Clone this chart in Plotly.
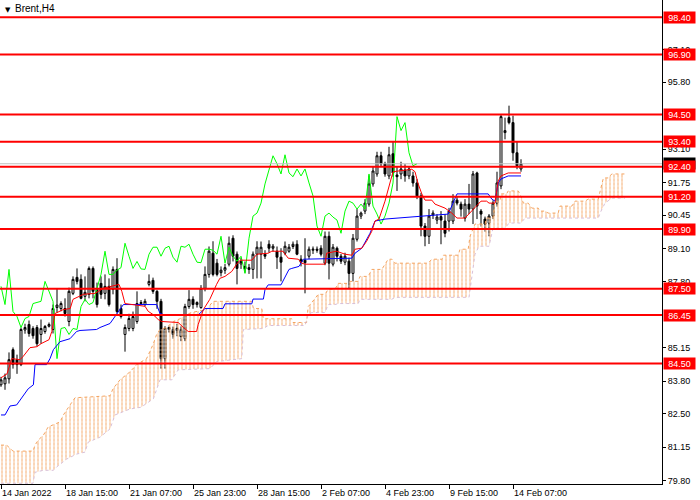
import plotly.graph_objects as go

# ------------------------------------------------------------
# Brent H4 candles (bar index 0 = 14 Jan 2022)
# ------------------------------------------------------------
opens = [83.65, 83.69, 83.89, 85.06, 84.66, 84.46, 85.85, 86.07, 85.91, 85.95,
         85.67, 85.79, 86.00, 85.87, 86.75, 86.71, 86.71, 86.19, 87.32, 87.96,
         87.88, 87.20, 87.28, 88.32, 87.48, 87.72, 87.32, 87.60, 87.48, 88.28,
         86.71, 85.67, 85.91, 85.91, 86.19, 86.91, 86.87, 87.68, 87.84, 87.40,
         87.00, 84.70, 85.87, 85.87, 85.83, 85.58, 85.50, 86.79, 87.08, 86.87,
         86.75, 87.52, 88.08, 88.93, 88.53, 88.15, 88.25, 88.49, 89.53, 88.89,
         88.50, 88.40, 88.35, 88.28, 88.89, 88.89, 88.89, 89.29, 89.13, 89.01,
         88.77, 88.93, 89.01, 89.20, 89.29, 88.69, 88.65, 88.81, 89.05, 89.09,
         89.13, 88.53, 89.61, 88.49, 89.13, 88.81, 88.57, 88.61, 88.12, 89.49,
         90.42, 90.62, 90.90, 91.71, 92.11, 92.84, 92.52, 92.03, 92.92, 92.07,
         92.11, 92.27, 92.03, 92.03, 91.75, 91.23, 90.02, 89.61, 90.46, 90.26,
         90.40, 90.22, 90.22, 90.22, 91.06, 90.90, 90.34, 90.90, 90.70, 92.15,
         90.62, 90.30, 90.14, 90.42, 90.94, 91.63, 93.77, 94.37, 94.17, 92.96,
         92.31]
highs = [83.97, 84.10, 84.95, 85.15, 84.86, 85.95, 86.10, 86.23, 86.00, 86.05,
         86.27, 86.05, 86.15, 86.87, 87.52, 87.00, 87.12, 87.55, 88.00, 88.32,
         88.08, 88.00, 88.40, 88.40, 87.75, 88.00, 88.08, 87.92, 88.40, 88.73,
         86.87, 86.07, 86.50, 86.59, 87.40, 87.05, 87.10, 88.08, 87.95, 87.45,
         87.10, 86.00, 86.00, 85.99, 86.10, 86.00, 86.90, 87.45, 87.20, 87.00,
         87.65, 88.40, 89.20, 89.41, 88.70, 88.40, 88.50, 89.60, 89.65, 89.00,
         88.75, 88.60, 88.50, 89.00, 89.41, 89.40, 89.05, 89.45, 89.30, 89.20,
         89.13, 89.40, 89.30, 89.40, 89.45, 88.85, 89.53, 89.20, 89.20, 89.20,
         89.25, 89.80, 89.80, 89.30, 89.20, 88.90, 88.95, 88.75, 89.70, 90.70,
         90.60, 91.10, 92.05, 92.40, 93.00, 93.00, 92.60, 93.20, 93.40, 92.40,
         92.60, 92.50, 92.40, 92.20, 91.90, 91.35, 90.14, 90.70, 90.65, 90.50,
         90.62, 90.50, 90.75, 91.30, 91.20, 91.00, 91.10, 91.71, 92.23, 92.20,
         90.70, 90.40, 90.50, 91.05, 92.20, 94.50, 94.37, 94.85, 94.45, 93.40,
         92.70]
lows = [83.57, 83.45, 83.70, 84.30, 84.09, 84.40, 85.70, 85.58, 85.50, 85.20,
        85.30, 85.70, 85.95, 85.71, 86.55, 86.60, 86.39, 86.00, 87.25, 87.68,
        87.08, 87.00, 87.12, 87.12, 86.75, 87.10, 87.08, 86.79, 87.28, 86.51,
        86.31, 84.98, 85.80, 85.80, 86.10, 86.85, 86.80, 87.60, 87.30, 86.70,
        84.30, 84.30, 85.75, 85.50, 85.60, 85.40, 85.40, 86.70, 86.70, 86.75,
        86.70, 87.40, 87.95, 88.00, 88.00, 88.00, 88.10, 88.40, 88.60, 87.68,
        88.30, 88.15, 88.10, 87.90, 87.92, 87.92, 88.70, 88.95, 89.00, 88.30,
        87.80, 88.85, 88.95, 89.10, 88.85, 88.40, 87.32, 88.70, 88.90, 88.95,
        88.80, 88.45, 87.88, 88.40, 88.60, 88.50, 88.45, 87.52, 87.80, 89.40,
        90.30, 90.50, 90.80, 91.60, 92.00, 92.40, 92.00, 91.90, 92.00, 91.43,
        91.90, 91.80, 91.90, 91.60, 91.10, 89.61, 89.21, 89.30, 90.30, 90.10,
        89.29, 89.57, 89.80, 90.10, 90.85, 90.40, 90.20, 90.50, 90.10, 90.30,
        90.00, 89.80, 89.61, 90.30, 90.80, 91.50, 93.50, 94.10, 92.64, 92.30,
        92.20]
closes = [83.85, 83.93, 84.66, 84.46, 84.46, 85.87, 85.95, 85.71, 85.62, 85.30,
          85.91, 85.99, 86.07, 86.71, 86.85, 86.91, 86.51, 87.40, 87.88, 87.80,
          87.12, 87.36, 88.32, 87.40, 86.87, 87.28, 87.60, 86.87, 88.28, 86.59,
          86.39, 85.95, 86.31, 86.39, 86.91, 86.95, 87.00, 87.80, 87.40, 87.00,
          84.70, 85.91, 85.95, 85.67, 85.91, 85.87, 86.79, 87.08, 86.87, 86.95,
          87.52, 88.08, 89.01, 88.08, 88.08, 88.25, 88.35, 89.33, 88.81, 88.32,
          88.60, 88.30, 88.28, 88.89, 89.17, 89.17, 88.81, 89.13, 89.21, 88.77,
          88.57, 89.21, 89.17, 89.29, 88.89, 88.57, 88.55, 89.09, 89.09, 89.05,
          88.89, 89.61, 88.53, 89.17, 88.81, 88.61, 88.81, 88.12, 89.53, 90.42,
          90.54, 90.94, 91.71, 92.23, 92.84, 92.52, 92.11, 92.88, 92.15, 92.00,
          92.31, 92.03, 92.31, 91.75, 91.23, 90.02, 89.61, 90.42, 90.54, 90.38,
          90.26, 89.73, 90.62, 91.02, 90.94, 90.70, 90.90, 90.70, 92.11, 90.82,
          90.50, 90.10, 90.42, 90.94, 91.75, 94.41, 93.85, 94.17, 92.96, 92.44,
          92.52]

# Ichimoku lines, read as polyline vertices (bar, price)
tenkan_x = [0, 1.5, 2.7, 4.75, 5.5, 7.25, 9, 10, 12, 12.7, 13.5, 15.6, 17.3, 18,
            20.6, 23.5, 25.6, 27.25, 29.5, 30.2, 31, 36, 36.8, 38, 39.3, 40.2,
            44.3, 45.6, 46.8, 48.9, 49.3, 50.6, 52.2, 53.9, 54.7, 56, 57.7, 58.9,
            59.8, 62.7, 64, 66.8, 67.7, 70.5, 71.8, 74.3, 75.2, 76, 81, 81.4,
            83.9, 86, 87.7, 88.5, 90.2, 91.4, 92.7, 93.5, 94.5, 96, 96.8, 98,
            102.7, 103.5, 104.3, 105.2, 106, 107.7, 108.5, 111, 112.7, 114, 116,
            117.7, 120, 121.4, 122, 123.5, 124.3, 125, 126.8, 130]
tenkan_y = [83.93, 84.09, 84.70, 84.66, 84.78, 85.14, 85.18, 85.30, 85.46, 85.79,
            86.51, 86.67, 86.71, 87.08, 87.28, 87.32, 87.52, 87.60, 87.68, 87.40,
            86.91, 86.80, 86.60, 86.47, 86.27, 86.19, 86.15, 85.95, 85.79, 85.79,
            86.07, 86.67, 87.08, 87.68, 87.92, 88.00, 88.20, 88.49, 88.65, 88.65,
            88.89, 88.93, 89.01, 89.01, 88.73, 88.69, 88.53, 88.49, 88.49, 88.93,
            89.01, 88.89, 88.85, 89.09, 89.13, 89.41, 89.81, 90.22, 90.30, 91.02,
            91.51, 92.20, 92.30, 92.20, 91.71, 91.31, 91.06, 91.06, 90.90, 90.74,
            90.54, 90.34, 90.34, 90.62, 91.02, 91.02, 90.94, 90.94, 91.83, 92.03,
            92.15, 92.15]

kijun_x = [0, 1, 2.25, 3.9, 6.8, 8.1, 8.5, 11.4, 12.25, 13.1, 14.75, 17.25, 18.9,
           19.75, 23.9, 24.75, 27.25, 28.9, 30.6, 38.9, 39.75, 40.6, 49.4, 51,
           55.5, 56, 62.7, 63, 65.6, 66, 66.8, 70, 71, 72, 72.7, 74.5, 75.6, 87.7,
           88.5, 90.2, 92.25, 93.5, 96, 111.8, 113, 114, 121.8, 122.7, 123.5,
           124.3, 125, 126.8, 130]
kijun_y = [82.44, 82.44, 82.80, 82.84, 83.49, 83.65, 84.46, 84.46, 84.70, 85.06,
           85.38, 85.50, 85.79, 85.83, 85.87, 85.95, 86.11, 86.47, 86.87, 86.87,
           86.51, 86.47, 86.47, 86.71, 86.71, 86.90, 86.90, 87.09, 87.09, 87.47,
           87.66, 87.66, 88.00, 88.28, 88.32, 88.40, 88.69, 88.73, 88.93, 89.13,
           89.73, 90.22, 90.30, 90.50, 90.94, 91.31, 91.31, 91.10, 91.02, 91.75,
           91.91, 92.03, 92.03]

span_a_x = [0, 1.4, 3, 8, 8.5, 9.3, 10.6, 11.8, 14.75, 15.6, 17.25, 18.5, 27.25,
            28, 29.75, 32.25, 33.9, 36.4, 38, 38.9, 39.75, 41.4, 43.1, 44.75,
            46.4, 47.6, 51.4, 53, 62.7, 63.1, 65.2, 65.6, 72.7, 73, 76.4, 76.8,
            77.7, 79.3, 81, 81.8, 83.5, 84.3, 86.8, 87.25, 89.3, 89.75, 91.8,
            92.7, 95.2, 96.8, 97.7, 98.5, 106.8, 107.7, 110.3, 110.6, 114.3,
            114.75, 116.8, 117.25, 118.5, 121, 121.4, 123, 123.5, 124.75, 125,
            126.4, 126.8, 129.3, 129.75, 130.6, 131.8, 132.7, 134.3, 134.75, 136,
            136.8, 139.3, 139.75, 142.7, 143.5, 146, 146.8, 149.3, 149.75, 150.6,
            151.8, 152.7, 156]
span_a_y = [81.23, 81.23, 80.99, 80.99, 81.23, 81.43, 81.63, 81.96, 82.16, 82.44,
            82.84, 83.13, 83.21, 83.49, 83.85, 84.17, 84.46, 84.70, 85.26, 85.67,
            85.87, 85.95, 86.19, 86.30, 86.47, 86.55, 86.67, 87.00, 87.00, 86.71,
            86.71, 86.30, 86.30, 86.15, 86.15, 86.79, 86.95, 87.28, 87.28, 87.48,
            87.48, 87.72, 87.72, 87.80, 87.80, 88.00, 88.00, 88.28, 88.28, 88.69,
            88.69, 88.53, 88.53, 88.69, 88.69, 88.85, 88.85, 89.09, 89.09, 89.61,
            90.10, 90.10, 90.34, 90.34, 91.02, 91.02, 91.31, 91.31, 91.43, 91.43,
            91.31, 90.94, 90.94, 90.74, 90.74, 90.62, 90.62, 90.54, 90.54, 90.82,
            90.82, 91.02, 91.02, 91.10, 91.10, 91.43, 91.95, 91.95, 92.11, 92.11]

span_b_x = [0, 8, 8.5, 10.6, 13.1, 13.9, 16.4, 18.9, 21, 21.8, 24.75, 27.25, 28.5,
            32.25, 35, 38.1, 39.75, 42.7, 44.3, 52.25, 53.9, 60.2, 60.6, 65.6,
            66.8, 76, 76.8, 77.7, 81, 81.8, 83.5, 84.3, 89.3, 89.75, 97.7, 98.5,
            117, 118, 118.5, 119.5, 122, 123, 126, 127, 130, 131, 149.3, 150, 151,
            152.7, 156]
span_b_y = [79.70, 79.70, 80.14, 80.22, 80.22, 80.35, 80.67, 80.87, 80.95, 81.35,
            81.55, 81.88, 82.44, 82.68, 82.75, 83.09, 83.85, 83.85, 84.25, 84.30,
            84.58, 84.70, 85.87, 85.91, 86.03, 86.03, 86.47, 86.55, 86.55, 86.87,
            86.87, 86.91, 86.91, 87.08, 87.08, 87.16, 87.16, 88.20, 88.89, 89.21,
            89.21, 89.93, 89.93, 90.14, 90.14, 90.34, 90.34, 90.62, 90.94, 91.14,
            91.14]

# Horizontal levels drawn on the chart
levels = [98.40, 96.90, 94.50, 93.40, 92.40, 91.20, 89.90, 87.50, 86.45, 84.50]
last_price = 92.52

# Price scale and time scale
price_ticks = [79.80, 81.15, 82.50, 83.80, 85.15, 87.80, 89.10, 90.45,
               91.75, 93.10, 95.80, 97.10]
time_ticks = [0, 16, 32, 48, 64, 80, 96, 112, 128]
time_labels = ["14 Jan 2022", "18 Jan 15:00", "21 Jan 07:00", "25 Jan 23:00",
               "28 Jan 15:00", "2 Feb 07:00", "4 Feb 23:00", "9 Feb 15:00",
               "14 Feb 07:00"]

bars = list(range(len(closes)))
chikou = closes[26:]          # lagging span: close shifted back 26 bars

FONT = "Liberation Sans, Arial, sans-serif"
SANDY = "#F4A460"
THISTLE = "#D8BFD8"

fig = go.Figure()

# ============================================================
# KUMO: vertical hatching between span A and span B, then broken
# into short dashes by a white horizontal hatch on top of it
# ============================================================
fig.add_trace(go.Scatter(
    x=span_b_x, y=span_b_y, mode="lines",
    line=dict(color="rgba(0,0,0,0)", width=0), hoverinfo="skip"))
fig.add_trace(go.Scatter(
    x=span_a_x, y=span_a_y, mode="lines", fill="tonexty",
    fillcolor="rgba(0,0,0,0)",
    fillpattern=dict(shape="|", size=4, solidity=0.45,
                     fgcolor=SANDY, bgcolor="rgba(0,0,0,0)"),
    line=dict(color=SANDY, width=1, dash="dot"), hoverinfo="skip"))
fig.add_trace(go.Scatter(
    x=span_b_x, y=span_b_y, mode="lines", fill="tonexty",
    fillcolor="rgba(0,0,0,0)",
    fillpattern=dict(shape="-", size=4, solidity=0.22,
                     fgcolor="white", bgcolor="rgba(0,0,0,0)"),
    line=dict(color=THISTLE, width=1, dash="dot"), hoverinfo="skip"))

fig.add_trace(go.Candlestick(
    x=bars, open=opens, high=highs, low=lows, close=closes,
    increasing=dict(line=dict(color="black", width=1), fillcolor="white"),
    decreasing=dict(line=dict(color="black", width=1), fillcolor="black"),
    whiskerwidth=0))

fig.add_trace(go.Scatter(x=bars[:len(chikou)], y=chikou, mode="lines",
                         line=dict(color="#00FF00", width=1)))
fig.add_trace(go.Scatter(x=kijun_x, y=kijun_y, mode="lines",
                         line=dict(color="#0000FF", width=1)))
fig.add_trace(go.Scatter(x=tenkan_x, y=tenkan_y, mode="lines",
                         line=dict(color="#FF0000", width=1)))

# ============================================================
# LEVELS + PRICE LABELS
# ============================================================
shapes = [dict(type="line", xref="paper", x0=0, x1=1, yref="y",
               y0=last_price, y1=last_price, layer="above",
               line=dict(color="#C0C0C0", width=1))]
for lv in levels:
    shapes.append(dict(type="line", xref="paper", x0=0, x1=1, yref="y",
                       y0=lv, y1=lv, layer="above",
                       line=dict(color="#FF0000", width=2)))

annotations = [
    dict(xref="paper", yref="y", x=1, y=last_price, xanchor="left",
         yanchor="middle", xshift=1, text=f"{last_price:.2f}", showarrow=False,
         bgcolor="black", font=dict(color="white", size=9, family=FONT),
         width=31, height=11, borderpad=0),
]
for lv in levels:
    annotations.append(dict(
        xref="paper", yref="y", x=1, y=lv, xanchor="left", yanchor="middle",
        xshift=1, text=f"{lv:.2f}", showarrow=False, bgcolor="#FF0000",
        font=dict(color="white", size=9, family=FONT),
        width=31, height=11, borderpad=0))
annotations += [
    dict(xref="paper", yref="paper", x=0, y=1, xanchor="left", yanchor="top",
         xshift=3, yshift=-4, text="▼", showarrow=False,
         font=dict(color="black", size=7, family="DejaVu Sans")),
    dict(xref="paper", yref="paper", x=0, y=1, xanchor="left", yanchor="top",
         xshift=13, yshift=-1, text="Brent,H4", showarrow=False,
         font=dict(color="black", size=10, family=FONT)),
]

fig.update_layout(
    width=700, height=500, autosize=False,
    margin=dict(l=0, r=38, t=0, b=16),
    paper_bgcolor="white", plot_bgcolor="white",
    showlegend=False,
    shapes=shapes, annotations=annotations,
    font=dict(family=FONT, size=9, color="black"),
    xaxis=dict(range=[-0.25, 165.25], showgrid=False, zeroline=False,
               showline=True, linecolor="black", linewidth=1,
               ticks="outside", ticklen=4, tickcolor="black",
               tickvals=time_ticks, ticktext=time_labels,
               ticklabelposition="outside right",
               rangeslider=dict(visible=False)),
    yaxis=dict(range=[79.67, 99.09], side="right", showgrid=False,
               zeroline=False, showline=True, linecolor="black", linewidth=1,
               ticks="outside", ticklen=3, tickcolor="black",
               tickvals=price_ticks,
               ticktext=[f"{t:.2f}" for t in price_ticks]),
)

# the page is photographed at exactly 700x500, so drop the default body margin
fig.write_html("out.html", config={"displayModeBar": False},
               post_script="document.body.style.margin='0';"
                           "document.body.style.overflow='hidden';")
